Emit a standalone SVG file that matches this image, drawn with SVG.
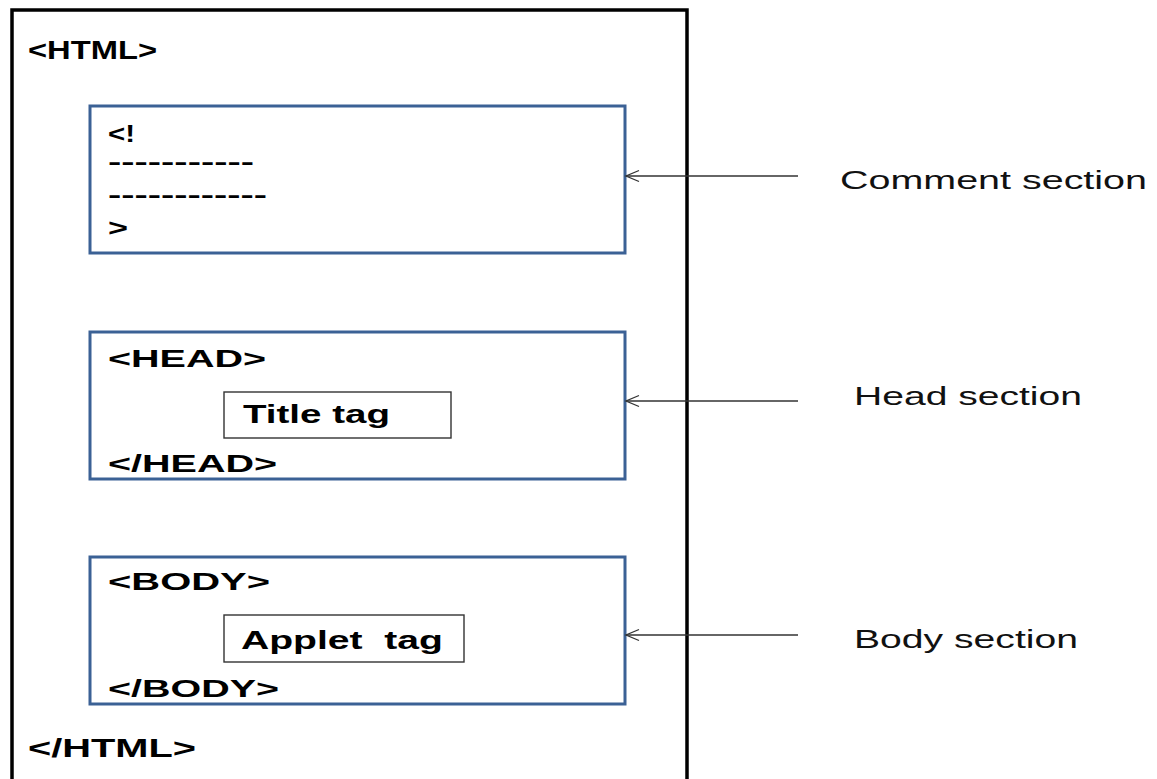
<svg xmlns="http://www.w3.org/2000/svg" width="1157" height="779" viewBox="0 0 1157 779">
  <style>
    .tag { font-family: "Liberation Sans", Arial, sans-serif; font-weight: bold; fill: #000; white-space: pre; }
    .big { font-size: 26px; }
    .mid { font-size: 24px; }
    .label { font-family: "Liberation Sans", Arial, sans-serif; font-size: 25px; fill: #111; }
    .section { fill: #fff; stroke: #3b6195; stroke-width: 3; }
    .inner { fill: #fff; stroke: #333; stroke-width: 1.4; }
    .conn { stroke: #333; stroke-width: 1.3; fill: none; }
  </style>
  <defs>
    <marker id="chev" markerWidth="16" markerHeight="14" refX="14" refY="7" orient="auto" markerUnits="userSpaceOnUse">
      <path d="M1,1.5 L14,7 L1,12.5" fill="none" stroke="#333" stroke-width="1.3"/>
    </marker>
  </defs>
  <rect width="1157" height="779" fill="#fff"/>

  <!-- outer html page frame -->
  <g id="html">
    <path d="M12,790 V10 H687 V790" fill="none" stroke="#000" stroke-width="3.5"/>
    <text class="tag big" x="28" y="59" textLength="129" lengthAdjust="spacingAndGlyphs">&lt;HTML&gt;</text>
    <text class="tag big" x="28" y="757" textLength="168" lengthAdjust="spacingAndGlyphs">&lt;/HTML&gt;</text>
  </g>

  <!-- comment block -->
  <g id="comment">
    <rect class="section" x="90" y="106" width="535" height="147"/>
    <text class="tag mid" x="108" y="142" textLength="27" lengthAdjust="spacingAndGlyphs">&lt;!</text>
    <text class="tag mid" x="108" y="170" textLength="146" lengthAdjust="spacingAndGlyphs">-----------</text>
    <text class="tag mid" x="108" y="203" textLength="159" lengthAdjust="spacingAndGlyphs">------------</text>
    <text class="tag mid" x="108" y="236" textLength="20" lengthAdjust="spacingAndGlyphs">&gt;</text>
  </g>

  <!-- head block -->
  <g id="head">
    <rect class="section" x="90" y="332" width="535" height="147"/>
    <text class="tag mid" x="108" y="367" textLength="158" lengthAdjust="spacingAndGlyphs">&lt;HEAD&gt;</text>
    <text class="tag mid" x="108" y="472" textLength="169" lengthAdjust="spacingAndGlyphs">&lt;/HEAD&gt;</text>
  </g>
  <g id="title-tag">
    <rect class="inner" x="224" y="392" width="227" height="46"/>
    <text class="tag big" x="243" y="423" textLength="147" lengthAdjust="spacingAndGlyphs">Title tag</text>
  </g>

  <!-- body block -->
  <g id="body">
    <rect class="section" x="90" y="557" width="535" height="147"/>
    <text class="tag mid" x="108" y="590" textLength="162" lengthAdjust="spacingAndGlyphs">&lt;BODY&gt;</text>
    <text class="tag mid" x="108" y="697" textLength="171" lengthAdjust="spacingAndGlyphs">&lt;/BODY&gt;</text>
  </g>
  <g id="applet-tag">
    <rect class="inner" x="224" y="615" width="240" height="47"/>
    <text class="tag big" x="241" y="649" textLength="202" lengthAdjust="spacingAndGlyphs" xml:space="preserve">Applet  tag</text>
  </g>

  <!-- section labels -->
  <g id="comment-label">
    <text class="label" x="840" y="189" textLength="307" lengthAdjust="spacingAndGlyphs">Comment section</text>
  </g>
  <g id="head-label">
    <text class="label" x="854" y="405" textLength="228" lengthAdjust="spacingAndGlyphs">Head section</text>
  </g>
  <g id="body-label">
    <text class="label" x="854" y="648" textLength="224" lengthAdjust="spacingAndGlyphs">Body section</text>
  </g>

  <!-- pointers from labels to blocks -->
  <g id="connectors">
    <line class="conn" x1="798" y1="176" x2="626" y2="176" marker-end="url(#chev)"/>
    <line class="conn" x1="798" y1="401" x2="626" y2="401" marker-end="url(#chev)"/>
    <line class="conn" x1="798" y1="635" x2="626" y2="635" marker-end="url(#chev)"/>
  </g>
</svg>
